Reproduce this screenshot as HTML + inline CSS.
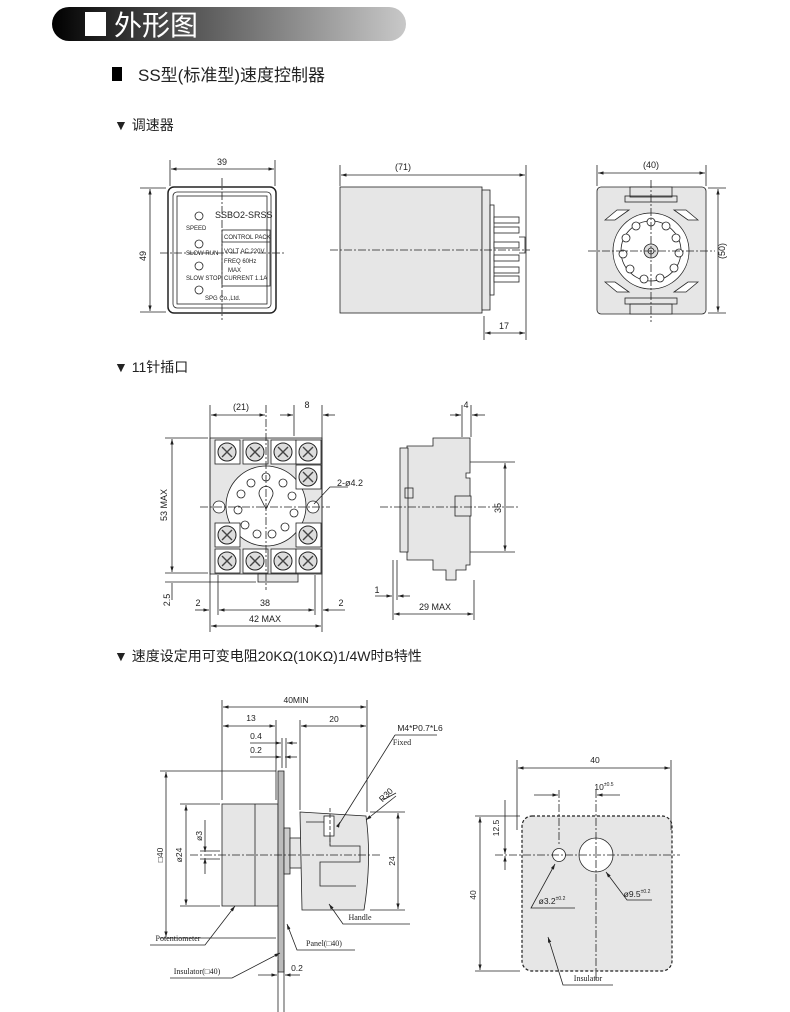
<!DOCTYPE html>
<html><head><meta charset="utf-8"><style>
html,body{margin:0;padding:0;background:#fff;}
svg{display:block;}
.t{font-family:"Liberation Sans","Noto Sans CJK SC",sans-serif;fill:#222;}
.s{font-family:"Liberation Serif","Noto Serif CJK SC",serif;fill:#222;}
</style></head><body>
<svg width="790" height="1012" viewBox="0 0 790 1012" xmlns="http://www.w3.org/2000/svg">
<defs>
<linearGradient id="hg" x1="0" x2="1" y1="0" y2="0">
<stop offset="0" stop-color="#000"/><stop offset="0.25" stop-color="#3a3a3a"/><stop offset="1" stop-color="#c8c8c8"/></linearGradient>
<marker id="a" viewBox="0 0 10 10" refX="10" refY="5" markerWidth="7" markerHeight="7" orient="auto-start-reverse"><path d="M0,2 L10,5 L0,8z" fill="#222"/></marker>
</defs>
<rect x="52" y="7" width="354" height="34" rx="17" fill="url(#hg)"/>
<rect x="85" y="12" width="21" height="24" fill="#fff"/>
<text x="114" y="35" class="t" font-size="28" style="fill:#fff">外形图</text>
<rect x="112" y="67" width="10" height="14" fill="#000"/>
<text x="138" y="81" class="t" font-size="17">SS型(标准型)速度控制器</text>
<text x="114" y="130" class="t" font-size="14">▼ 调速器</text>

<g stroke="#222" stroke-width="0.8" fill="none">
<rect x="168" y="187" width="108" height="126" rx="6" stroke-width="1.5"/>
<rect x="173" y="192" width="98" height="116" rx="4"/>
<rect x="177" y="196" width="90" height="108"/>
<line x1="170" y1="160" x2="170" y2="186"/><line x1="275" y1="160" x2="275" y2="186"/>
<line x1="171" y1="169" x2="274" y2="169" marker-start="url(#a)" marker-end="url(#a)"/>
<line x1="140" y1="188" x2="166" y2="188"/><line x1="140" y1="312" x2="166" y2="312"/>
<line x1="150" y1="189" x2="150" y2="311" marker-start="url(#a)" marker-end="url(#a)"/>
<line x1="160" y1="253" x2="285" y2="253" stroke-dasharray="8 2 2 2"/>
<line x1="222" y1="178" x2="222" y2="320" stroke-dasharray="8 2 2 2"/>
<rect x="222" y="230" width="48" height="56"/>
<line x1="222" y1="242" x2="270" y2="242"/>
<circle cx="199" cy="216" r="4"/><circle cx="199" cy="244" r="4"/><circle cx="199" cy="266" r="4"/><circle cx="199" cy="290" r="4"/>
<rect x="340" y="187" width="142" height="126" fill="#e6e6e6"/>
<rect x="482" y="190" width="8" height="120" fill="#e6e6e6"/>
<rect x="490" y="205" width="4" height="90"/>
<g fill="#fff"><rect x="494" y="217" width="25" height="6"/><rect x="494" y="227" width="25" height="6"/><rect x="494" y="242" width="25" height="6"/><rect x="494" y="255" width="25" height="6"/><rect x="494" y="267" width="25" height="6"/><rect x="494" y="276" width="25" height="6"/></g>
<path d="M519 237 h6 v16 h-6"/>
<line x1="330" y1="250" x2="530" y2="250" stroke-dasharray="8 2 2 2"/>
<line x1="526" y1="165" x2="526" y2="340"/><line x1="340" y1="165" x2="340" y2="186"/><line x1="484" y1="316" x2="484" y2="340"/>
<line x1="341" y1="175" x2="525" y2="175" marker-start="url(#a)" marker-end="url(#a)"/>
<line x1="485" y1="333" x2="525" y2="333" marker-start="url(#a)" marker-end="url(#a)"/>
<rect x="597" y="187" width="109" height="127" rx="4" fill="#e6e6e6"/>
<rect x="630" y="187" width="42" height="10" fill="#e6e6e6"/><rect x="625" y="196" width="52" height="6"/>
<rect x="630" y="304" width="42" height="10" fill="#e6e6e6"/><rect x="625" y="298" width="52" height="6"/>
<path d="M605 220 l12 -10 h12 l-14 10 z M605 282 l12 10 h12 l-14 -10 z M698 220 l-12 -10 h-12 l14 10 z M698 282 l-12 10 h-12 l14 -10 z" fill="#fff"/>
<circle cx="651" cy="251" r="38" fill="#fff"/><circle cx="651" cy="251" r="30"/><circle cx="651" cy="251" r="7" fill="#ddd"/><circle cx="651" cy="251" r="3"/>
<g fill="#fff">
<circle cx="651" cy="222" r="4"/><circle cx="666" cy="226" r="4"/><circle cx="676" cy="238" r="4"/><circle cx="679" cy="253" r="4"/><circle cx="674" cy="268" r="4"/><circle cx="660" cy="278" r="4"/><circle cx="644" cy="279" r="4"/><circle cx="630" cy="269" r="4"/><circle cx="623" cy="254" r="4"/><circle cx="626" cy="238" r="4"/><circle cx="636" cy="226" r="4"/></g>
<line x1="651" y1="180" x2="651" y2="322" stroke-dasharray="8 2 2 2"/><line x1="588" y1="251" x2="715" y2="251" stroke-dasharray="8 2 2 2"/>
<line x1="597" y1="165" x2="597" y2="186"/><line x1="706" y1="165" x2="706" y2="186"/>
<line x1="598" y1="173" x2="705" y2="173" marker-start="url(#a)" marker-end="url(#a)"/>
<line x1="708" y1="188" x2="726" y2="188"/><line x1="708" y1="313" x2="726" y2="313"/>
<line x1="718" y1="189" x2="718" y2="312" marker-start="url(#a)" marker-end="url(#a)"/>
</g>
<g class="t" font-size="9" text-anchor="middle">
<text x="222" y="165">39</text><text x="403" y="170">(71)</text><text x="504" y="329">17</text><text x="651" y="168">(40)</text>
<text transform="translate(146,256) rotate(-90)">49</text><text transform="translate(725,251) rotate(-90)">(50)</text>
</g>
<g class="t" font-size="6">
<text x="215" y="218" font-size="9">SSBO2-SRSS</text><text x="186" y="230">SPEED</text><text x="186" y="255">SLOW RUN</text><text x="186" y="280">SLOW STOP</text>
<text x="224" y="239">CONTROL PACK</text><text x="224" y="253">VOLT  AC  220V</text><text x="224" y="263">FREQ      60Hz</text><text x="228" y="272">MAX</text><text x="224" y="280">CURRENT   1.1A</text>
<text x="205" y="300">SPG Co.,Ltd.</text></g>

<text x="114" y="372" class="t" font-size="14">▼ 11针插口</text>
<g stroke="#222" stroke-width="0.8" fill="none">
<rect x="210" y="438" width="112" height="136" fill="#e6e6e6"/>
<rect x="258" y="574" width="40" height="8" fill="#e6e6e6"/>
<circle cx="266" cy="506" r="40" fill="#fff"/>
<path d="M260 497 a7 7 0 1 1 12 0 l-6 12 z"/>
<g fill="#fff">
<rect x="215" y="440" width="25" height="24"/><rect x="243" y="440" width="25" height="24"/><rect x="271" y="440" width="25" height="24"/><rect x="296" y="440" width="25" height="24"/><rect x="296" y="465" width="25" height="24"/>
<rect x="215" y="523" width="25" height="24"/><rect x="296" y="523" width="25" height="24"/>
<rect x="215" y="549" width="25" height="24"/><rect x="243" y="549" width="25" height="24"/><rect x="271" y="549" width="25" height="24"/><rect x="296" y="549" width="25" height="24"/></g>
<g fill="#ddd" stroke-width="1">
<circle cx="227" cy="452" r="9"/><circle cx="255" cy="452" r="9"/><circle cx="283" cy="452" r="9"/><circle cx="308" cy="452" r="9"/><circle cx="308" cy="477" r="9"/><circle cx="227" cy="535" r="9"/><circle cx="308" cy="535" r="9"/><circle cx="227" cy="561" r="9"/><circle cx="255" cy="561" r="9"/><circle cx="283" cy="561" r="9"/><circle cx="308" cy="561" r="9"/></g>
<g stroke="#444" stroke-width="1.4">
<path d="M222 447 l10 10 M232 447 l-10 10 M250 447 l10 10 M260 447 l-10 10 M278 447 l10 10 M288 447 l-10 10 M303 447 l10 10 M313 447 l-10 10 M303 472 l10 10 M313 472 l-10 10 M222 530 l10 10 M232 530 l-10 10 M303 530 l10 10 M313 530 l-10 10 M222 556 l10 10 M232 556 l-10 10 M250 556 l10 10 M260 556 l-10 10 M278 556 l10 10 M288 556 l-10 10 M303 556 l10 10 M313 556 l-10 10"/></g>
<g fill="#fff"><circle cx="266" cy="477" r="4"/><circle cx="283" cy="483" r="4"/><circle cx="292" cy="496" r="4"/><circle cx="294" cy="513" r="4"/><circle cx="285" cy="527" r="4"/><circle cx="272" cy="534" r="4"/><circle cx="257" cy="534" r="4"/><circle cx="245" cy="525" r="4"/><circle cx="238" cy="510" r="4"/><circle cx="241" cy="494" r="4"/><circle cx="251" cy="483" r="4"/>
<circle cx="219" cy="507" r="6"/><circle cx="313" cy="507" r="6"/></g>
<line x1="266" y1="405" x2="266" y2="590" stroke-dasharray="8 2 2 2"/><line x1="200" y1="507" x2="330" y2="507" stroke-dasharray="8 2 2 2"/>
<line x1="210" y1="405" x2="210" y2="632"/><line x1="322" y1="405" x2="322" y2="632"/><line x1="218" y1="575" x2="218" y2="615"/><line x1="315" y1="575" x2="315" y2="615"/><line x1="294" y1="405" x2="294" y2="436"/>
<line x1="211" y1="415" x2="265" y2="415" marker-start="url(#a)" marker-end="url(#a)"/>
<line x1="280" y1="415" x2="293" y2="415" marker-end="url(#a)"/><line x1="335" y1="415" x2="323" y2="415" marker-end="url(#a)"/>
<line x1="165" y1="438" x2="208" y2="438"/><line x1="165" y1="573" x2="208" y2="573"/><line x1="165" y1="582" x2="256" y2="582"/>
<line x1="172" y1="439" x2="172" y2="572" marker-start="url(#a)" marker-end="url(#a)"/>
<line x1="172" y1="583" x2="172" y2="600" />
<line x1="219" y1="610" x2="314" y2="610" marker-start="url(#a)" marker-end="url(#a)"/>
<line x1="195" y1="610" x2="209" y2="610" marker-end="url(#a)"/><line x1="345" y1="610" x2="323" y2="610" marker-end="url(#a)"/>
<line x1="211" y1="626" x2="321" y2="626" marker-start="url(#a)" marker-end="url(#a)"/>
<path d="M314 504 L330 487 h18"/>
<path d="M433 438 h37 v35 h-4 v5 h4 v87 h-4 v5 h-10 v10 h-10 v-10 h-13 v-10 h-26 v-10 h-5 v-94 h5 v-10 h26 z" fill="#e6e6e6"/>
<rect x="400" y="448" width="8" height="104" fill="#e6e6e6"/>
<rect x="455" y="496" width="16" height="20" fill="#e6e6e6"/>
<rect x="405" y="488" width="8" height="10"/>
<line x1="380" y1="507" x2="520" y2="507" stroke-dasharray="8 2 2 2"/>
<line x1="462" y1="405" x2="462" y2="437"/><line x1="471" y1="405" x2="471" y2="437"/>
<line x1="450" y1="415" x2="461" y2="415" marker-end="url(#a)"/><line x1="485" y1="415" x2="472" y2="415" marker-end="url(#a)"/>
<line x1="470" y1="462" x2="515" y2="462"/><line x1="470" y1="552" x2="515" y2="552"/>
<line x1="505" y1="463" x2="505" y2="551" marker-start="url(#a)" marker-end="url(#a)"/>
<line x1="393" y1="560" x2="393" y2="620"/><line x1="397" y1="560" x2="397" y2="600"/><line x1="474" y1="580" x2="474" y2="620"/>
<line x1="375" y1="596" x2="392" y2="596" marker-end="url(#a)"/><line x1="410" y1="596" x2="398" y2="596" marker-end="url(#a)"/>
<line x1="394" y1="614" x2="473" y2="614" marker-start="url(#a)" marker-end="url(#a)"/>
</g>
<g class="t" font-size="9" text-anchor="middle">
<text x="241" y="410">(21)</text><text x="307" y="408">8</text><text x="350" y="486">2-ø4.2</text>
<text transform="translate(167,505) rotate(-90)">53   MAX</text><text transform="translate(170,600) rotate(-90)">2.5</text>
<text x="198" y="606">2</text><text x="265" y="606">38</text><text x="341" y="606">2</text><text x="265" y="622">42   MAX</text>
<text x="466" y="408">4</text><text transform="translate(501,508) rotate(-90)">35</text><text x="377" y="593">1</text><text x="435" y="610">29   MAX</text>
</g>

<text x="114" y="661" class="t" font-size="14">▼ 速度设定用可变电阻20KΩ(10KΩ)1/4W时B特性</text>
<g stroke="#222" stroke-width="0.8" fill="none">
<rect x="222" y="804" width="56" height="102" fill="#e6e6e6"/><line x1="255" y1="804" x2="255" y2="906"/>
<rect x="278" y="771" width="6" height="201" fill="#bbb"/>
<rect x="284" y="828" width="6" height="46" fill="#ccc"/>
<rect x="290" y="838" width="12" height="30" fill="#e6e6e6"/>
<path d="M300 812 L366 816 Q372 860 364 910 L302 910 Z" fill="#e6e6e6"/>
<path d="M306 822 h24 v24 h30 v16 h-40 v24 h36" />
<rect x="324" y="816" width="10" height="20" fill="#fff"/>
<line x1="190" y1="855" x2="380" y2="855" stroke-dasharray="8 2 2 2"/>
<line x1="330" y1="808" x2="330" y2="845" stroke-dasharray="4 2"/>
<line x1="222" y1="700" x2="222" y2="800"/><line x1="367" y1="700" x2="367" y2="812"/><line x1="276" y1="720" x2="276" y2="800"/><line x1="300" y1="720" x2="300" y2="810"/>
<line x1="282" y1="738" x2="282" y2="768"/><line x1="286" y1="738" x2="286" y2="768"/>
<line x1="223" y1="707" x2="366" y2="707" marker-start="url(#a)" marker-end="url(#a)"/>
<line x1="223" y1="726" x2="275" y2="726" marker-start="url(#a)" marker-end="url(#a)"/>
<line x1="301" y1="726" x2="366" y2="726" marker-start="url(#a)" marker-end="url(#a)"/>
<line x1="250" y1="743" x2="281" y2="743" marker-end="url(#a)"/><line x1="297" y1="743" x2="287" y2="743" marker-end="url(#a)"/>
<line x1="250" y1="757" x2="281" y2="757" marker-end="url(#a)"/><line x1="297" y1="757" x2="285" y2="757" marker-end="url(#a)"/>
<line x1="160" y1="771" x2="276" y2="771"/><line x1="160" y1="938" x2="276" y2="938"/>
<line x1="166" y1="772" x2="166" y2="937" marker-start="url(#a)" marker-end="url(#a)"/>
<line x1="180" y1="804" x2="220" y2="804"/><line x1="180" y1="906" x2="220" y2="906"/>
<line x1="186" y1="805" x2="186" y2="905" marker-start="url(#a)" marker-end="url(#a)"/>
<line x1="205" y1="820" x2="205" y2="852" marker-end="url(#a)"/><line x1="205" y1="874" x2="205" y2="858" marker-end="url(#a)"/>
<line x1="200" y1="851" x2="220" y2="851"/><line x1="200" y1="859" x2="220" y2="859"/>
<line x1="370" y1="812" x2="405" y2="812"/><line x1="370" y1="910" x2="405" y2="910"/>
<line x1="398" y1="813" x2="398" y2="909" marker-start="url(#a)" marker-end="url(#a)"/>
<path d="M395 735 L437 735 M395 735 L338 826" /><line x1="338" y1="826" x2="340" y2="822" marker-end="url(#a)"/>
<path d="M396 796 L366 820" marker-end="url(#a)"/><line x1="383" y1="800" x2="396" y2="793"/>
<path d="M410 924 L343 924 L329 904" marker-end="url(#a)"/>
<path d="M150 945 L205 945 L235 906" marker-end="url(#a)"/>
<path d="M355 950 L297 950 L287 924" marker-end="url(#a)"/>
<path d="M170 978 L232 978 L280 953" marker-end="url(#a)"/>
<line x1="278" y1="960" x2="278" y2="1012"/><line x1="284" y1="960" x2="284" y2="1012"/>
<line x1="258" y1="975" x2="277" y2="975" marker-end="url(#a)"/><line x1="300" y1="975" x2="285" y2="975" marker-end="url(#a)"/>
<rect x="522" y="816" width="150" height="155" rx="10" fill="#e6e6e6" stroke-dasharray="3 2" stroke-width="1.2"/>
<circle cx="559" cy="855" r="6.5" fill="#fff"/><circle cx="596" cy="855" r="17" fill="#fff"/>
<line x1="495" y1="855" x2="680" y2="855" stroke-dasharray="8 2 2 2"/>
<line x1="559" y1="790" x2="559" y2="845" stroke-dasharray="8 2 2 2"/><line x1="596" y1="790" x2="596" y2="980" stroke-dasharray="8 2 2 2"/>
<line x1="517" y1="760" x2="517" y2="830"/><line x1="671" y1="760" x2="671" y2="830"/>
<line x1="518" y1="768" x2="670" y2="768" marker-start="url(#a)" marker-end="url(#a)"/>
<line x1="534" y1="795" x2="558" y2="795" marker-end="url(#a)"/><line x1="620" y1="795" x2="597" y2="795" marker-end="url(#a)"/>
<line x1="475" y1="816" x2="520" y2="816"/><line x1="475" y1="971" x2="520" y2="971"/>
<line x1="480" y1="817" x2="480" y2="970" marker-start="url(#a)" marker-end="url(#a)"/>
<line x1="505" y1="800" x2="505" y2="854" marker-end="url(#a)"/><line x1="505" y1="870" x2="505" y2="856" marker-end="url(#a)"/>
<path d="M575 908 L531 908 L555 864" marker-end="url(#a)"/>
<path d="M652 900 L627 900 L606 872" marker-end="url(#a)"/>
<path d="M613 985 L563 985 L548 937" marker-end="url(#a)"/>
</g>
<g class="t" font-size="8.5" text-anchor="middle">
<text x="296" y="703">40MIN</text><text x="251" y="721">13</text><text x="334" y="722">20</text><text x="256" y="739">0.4</text><text x="256" y="753">0.2</text>
<text x="420" y="731">M4*P0.7*L6</text><text transform="translate(388,797) rotate(-45)">R30</text>
<text transform="translate(163,855) rotate(-90)">□40</text><text transform="translate(182,855) rotate(-90)">ø24</text><text transform="translate(202,836) rotate(-90)">ø3</text><text transform="translate(395,861) rotate(-90)">24</text>
<text x="297" y="971">0.2</text>
<text x="595" y="763">40</text><text x="604" y="790">10<tspan font-size="5" dy="-4">±0.5</tspan></text>
<text transform="translate(499,828) rotate(-90)">12.5</text><text transform="translate(476,895) rotate(-90)">40</text>
<text x="552" y="904">ø3.2<tspan font-size="5" dy="-4">±0.2</tspan></text><text x="637" y="897">ø9.5<tspan font-size="5" dy="-4">±0.2</tspan></text>
</g>
<g class="s" font-size="8" text-anchor="middle">
<text x="402" y="745">Fixed</text><text x="360" y="920">Handle</text><text x="178" y="941">Potentiometer</text><text x="324" y="946">Panel(□40)</text><text x="197" y="974">Insulator(□40)</text><text x="588" y="981">Insulator</text>
</g>
</svg>
</body></html>
